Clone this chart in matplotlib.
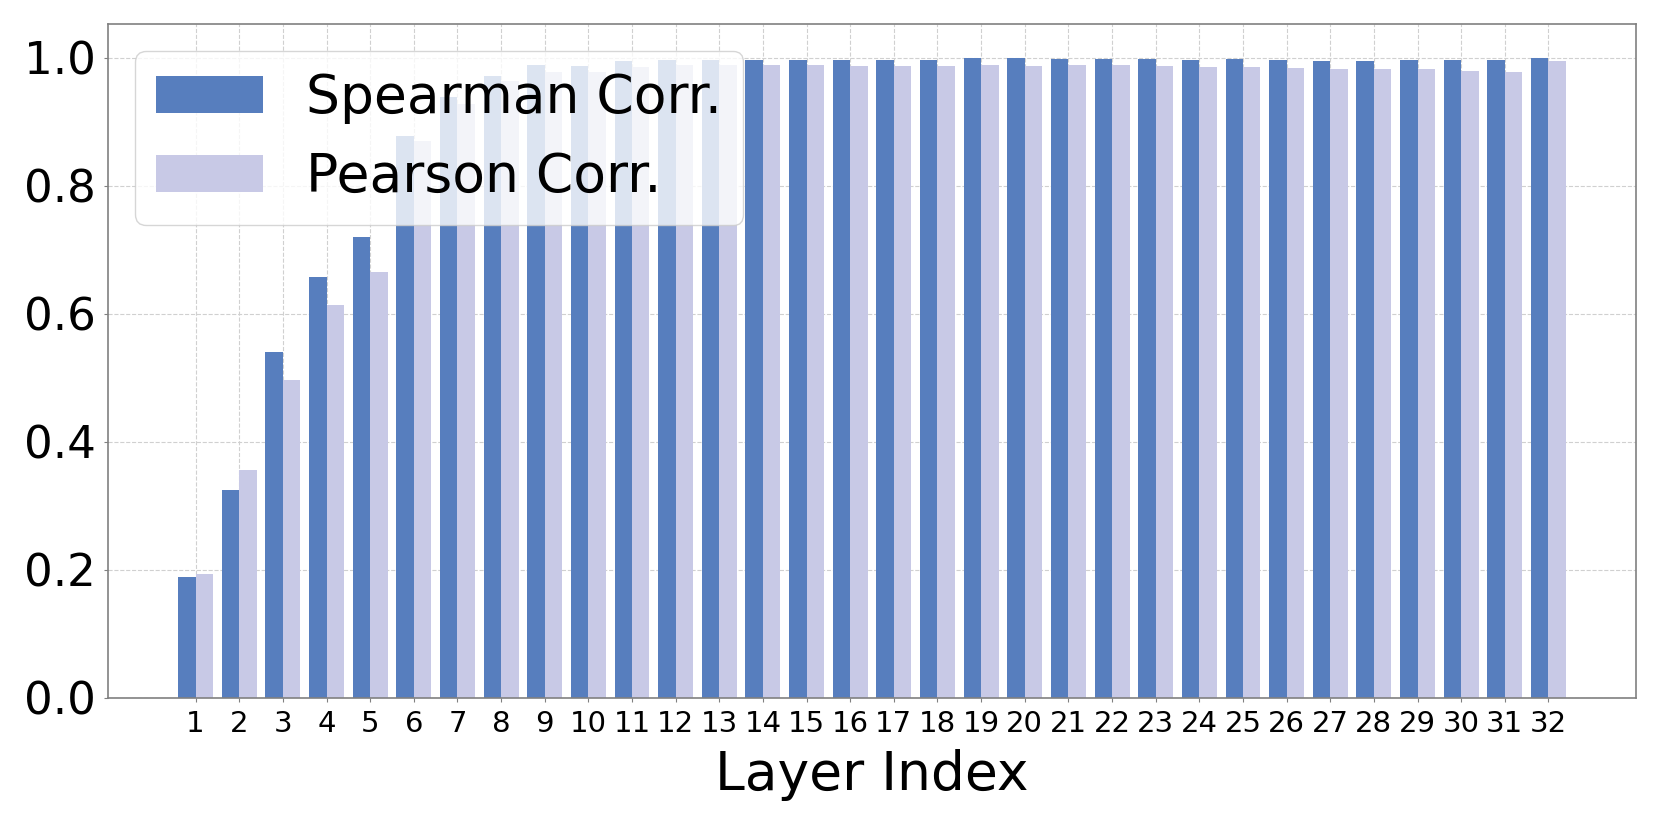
import numpy as np
import matplotlib
matplotlib.use('Agg')
import matplotlib.pyplot as plt

# values
layers = list(range(1, 33))
spearman = [0.188, 0.324, 0.540, 0.657, 0.720, 0.877, 0.938, 0.972,
            0.988, 0.987, 0.994, 0.996, 0.997, 0.997, 0.997, 0.997,
            0.997, 0.997, 0.999, 0.999, 0.998, 0.998, 0.998, 0.997,
            0.998, 0.997, 0.995, 0.995, 0.997, 0.997, 0.996, 0.999]
pearson = [0.194, 0.355, 0.497, 0.614, 0.665, 0.869, 0.927, 0.964,
           0.977, 0.977, 0.986, 0.989, 0.988, 0.988, 0.988, 0.987,
           0.987, 0.987, 0.988, 0.987, 0.989, 0.988, 0.987, 0.986,
           0.985, 0.983, 0.982, 0.982, 0.982, 0.979, 0.978, 0.994]

c_spear = '#577ebe'
c_pear = '#c8c9e6'
width = 0.4

fig = plt.figure(figsize=(16.61, 8.30), dpi=100)
ax = fig.add_axes([0.0652, 0.1594, 0.9196, 0.8113])

x = np.array(layers)
ax.bar(x - width / 2, spearman, width, color=c_spear, label='Spearman Corr.', zorder=2)
ax.bar(x + width / 2, pearson, width, color=c_pear, label='Pearson Corr.', zorder=2)

ax.set_xlim(-1, 34)
ax.set_ylim(0, 1.052)
ax.set_xticks(x)
ax.set_xticklabels([str(i) for i in layers])
ax.set_yticks([0.0, 0.2, 0.4, 0.6, 0.8, 1.0])
ax.set_yticklabels(['0.0', '0.2', '0.4', '0.6', '0.8', '1.0'])

ax.tick_params(axis='x', labelsize=21, length=3, color='gray', pad=6)
ax.tick_params(axis='y', labelsize=32.5, length=3, color='gray', pad=6)
ax.set_xlabel('Layer Index', fontsize=38.5, labelpad=8)

ax.grid(True, linestyle='--', color='#d0d0d0', linewidth=0.8, zorder=0)
ax.set_axisbelow(True)
for side in ['left', 'right', 'top', 'bottom']:
    ax.spines[side].set_color('gray')
    ax.spines[side].set_linewidth(1.2)

ax.legend(loc='upper left', fontsize=38.5, framealpha=0.8)

plt.savefig('out.png', dpi=100)
